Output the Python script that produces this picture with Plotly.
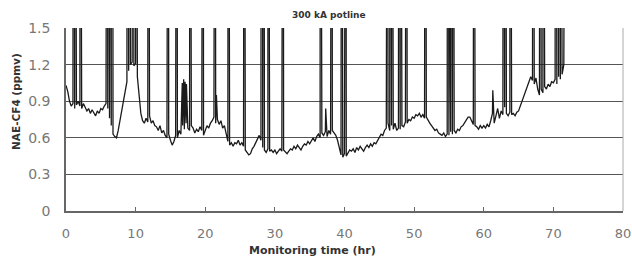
import plotly.graph_objects as go

# baseline NAE-CF4 readings every 0.25 h from 0 h
base_start = 0.0
base_step = 0.25
base_values = [
    1.03, 0.98, 0.90, 0.86, 0.88, 0.84, 0.87, 0.90, 0.86, 0.84, 0.88, 0.85,
    0.82, 0.84, 0.80, 0.83, 0.81, 0.78, 0.82, 0.80, 0.84, 0.83, 0.86, 0.88,
    0.84, 0.76, 0.70, 0.63, 0.61, 0.60, 0.66, 0.75, 0.82, 0.90, 0.98, 1.06,
    1.15, 1.20, 1.22, 1.19, 1.21, 1.10, 0.95, 0.80, 0.74, 0.72, 0.76, 0.73,
    0.78, 0.72, 0.74, 0.70, 0.69, 0.66, 0.70, 0.64, 0.66, 0.62, 0.60, 0.63,
    0.58, 0.54, 0.57, 0.62, 0.60, 0.66, 0.63, 0.70, 0.67, 0.72, 0.68, 0.66,
    0.70, 0.68, 0.64, 0.67, 0.65, 0.69, 0.66, 0.62, 0.66, 0.70, 0.68, 0.72,
    0.74, 0.77, 0.72, 0.75, 0.71, 0.74, 0.68, 0.70, 0.62, 0.57, 0.54, 0.56,
    0.53, 0.56, 0.55, 0.58, 0.54, 0.56, 0.53, 0.50, 0.48, 0.46, 0.47, 0.51,
    0.53, 0.56, 0.60, 0.62, 0.58, 0.52, 0.50, 0.48, 0.51, 0.49, 0.50, 0.48,
    0.50, 0.47, 0.49, 0.51, 0.49, 0.50, 0.48, 0.47, 0.49, 0.51, 0.50, 0.53,
    0.51, 0.54, 0.52, 0.50, 0.53, 0.55, 0.54, 0.57, 0.55, 0.58, 0.60, 0.57,
    0.61, 0.63, 0.60, 0.64, 0.62, 0.65, 0.61, 0.66, 0.63, 0.66, 0.64, 0.62,
    0.58, 0.52, 0.46, 0.44, 0.47, 0.45, 0.48, 0.50, 0.49, 0.51, 0.48, 0.52,
    0.50, 0.53, 0.51, 0.49, 0.52, 0.54, 0.52, 0.55, 0.53, 0.56, 0.55, 0.58,
    0.60, 0.63, 0.62, 0.66, 0.68, 0.72, 0.66, 0.70, 0.67, 0.72, 0.66, 0.68,
    0.67, 0.70, 0.69, 0.73, 0.72, 0.75, 0.74, 0.77, 0.76, 0.79, 0.78, 0.80,
    0.77, 0.79, 0.76, 0.77, 0.74, 0.72, 0.70, 0.68, 0.66, 0.67, 0.64, 0.63,
    0.62, 0.64, 0.61, 0.63, 0.62, 0.65, 0.63, 0.66, 0.64, 0.67, 0.66, 0.69,
    0.70, 0.72, 0.74, 0.77, 0.77, 0.74, 0.71, 0.70, 0.69, 0.67, 0.70, 0.68,
    0.70, 0.68, 0.71, 0.69, 0.74, 0.80, 0.72, 0.78, 0.84, 0.76, 0.82, 0.79,
    0.85, 0.80, 0.78, 0.81, 0.79, 0.80, 0.78, 0.81, 0.82, 0.86, 0.90, 0.95,
    0.98, 1.02, 1.06, 1.10, 1.07, 1.04, 1.09, 1.00, 0.95, 1.00, 0.97, 1.02,
    1.00, 1.04, 1.02, 1.06, 1.05, 1.08, 1.04, 1.10, 1.08, 1.12, 1.20,
]

# anode-effect spikes (time in h, peak ppmv)
spike_times = [
    1.05, 1.25, 2.0, 5.9, 6.1, 6.3, 6.5, 6.7, 8.8, 9.1, 9.7, 10.0, 11.8,
    14.7, 15.9, 16.7, 16.9, 17.1, 17.3, 17.8, 19.7, 21.4, 21.6, 23.3, 25.6,
    28.05, 28.2, 28.4, 29.0, 31.2, 36.5, 37.3, 38.2, 39.6, 40.2, 46.2, 46.5,
    46.8, 47.8, 48.0, 48.9, 51.6, 54.8, 55.0, 55.2, 55.4, 55.6, 58.6, 61.3,
    62.8, 63.1, 63.8, 67.1, 68.1, 68.5, 70.3, 70.5, 70.7, 70.9, 71.05, 71.75,
]
spike_peaks = [
    6.0, 6.0, 6.0, 6.0, 6.0, 6.0, 6.0, 6.0, 6.0, 6.0, 6.0, 6.0, 6.0,
    6.0, 6.0, 1.05, 1.08, 1.06, 1.04, 6.0, 6.0, 6.0, 0.95, 6.0, 6.0,
    6.0, 6.0, 6.0, 6.0, 6.0, 6.0, 0.84, 6.0, 6.0, 6.0, 6.0, 6.0,
    6.0, 6.0, 6.0, 6.0, 6.0, 6.0, 6.0, 1.06, 6.0, 6.0, 6.0, 0.99,
    6.0, 6.0, 6.0, 6.0, 6.0, 6.0, 6.0, 6.0, 6.0, 6.0, 6.0, 6.0,
]

y_ticks = [0, 0.3, 0.6, 0.9, 1.2, 1.5]
y_tick_labels = ["0", "0.3", "0.6", "0.9", "1.2", "1.5"]
x_ticks = [0, 10, 20, 30, 40, 50, 60, 70, 80]

# merge baseline samples and spike peaks into one time-ordered record
pts = [(base_start + i * base_step, v) for i, v in enumerate(base_values)]
pts += list(zip(spike_times, spike_peaks))
pts.sort(key=lambda p: p[0])
t = [p[0] for p in pts]
v = [p[1] for p in pts]

fig = go.Figure()
fig.add_trace(go.Scatter(x=t, y=v, mode="lines",
                         line=dict(color="#1a1a1a", width=1.3), cliponaxis=True,
                         showlegend=False))

fig.update_layout(
    width=632, height=261,
    margin=dict(l=66, r=9, t=28, b=50),
    paper_bgcolor="white", plot_bgcolor="white",
    font=dict(family="DejaVu Sans", color="#666666", size=12),
    xaxis=dict(range=[0, 80], tickvals=x_ticks, showgrid=False, zeroline=False,
               showline=True, linecolor="#666666", linewidth=1.5,
               ticks="inside", ticklen=4, tickcolor="#666666",
               ticklabelstandoff=10, automargin=False,
               ticklabeloverflow="allow",
               tickfont=dict(size=13, color="#777777")),
    yaxis=dict(range=[0, 1.5], tickvals=y_ticks, ticktext=y_tick_labels,
               showgrid=True, gridcolor="#555555", gridwidth=1.2,
               zeroline=False, showline=True, linecolor="#666666", linewidth=1.5,
               ticks="", ticklabelstandoff=11, automargin=False,
               ticklabeloverflow="allow",
               tickfont=dict(size=14, color="#777777")),
    shapes=[dict(type="line", xref="paper", yref="paper", x0=1, x1=1, y0=0, y1=1,
                 line=dict(color="#aaaaaa", width=1))],
    annotations=[
        dict(text="<b>300 kA potline</b>", xref="paper", yref="paper",
             x=0.472, y=1.0, yshift=13, xanchor="center", yanchor="middle",
             showarrow=False,
             font=dict(family="DejaVu Sans", size=9, color="#333333")),
        dict(text="<b>Monitoring time (hr)</b>", xref="paper", yref="paper",
             x=0.4417, y=0, yshift=-39, xanchor="center", yanchor="middle",
             showarrow=False,
             font=dict(family="DejaVu Sans", size=11, color="#333333")),
        dict(text="<b>NAE-CF4 (ppmv)</b>", xref="paper", yref="paper",
             x=0, xshift=-50, y=0.596, xanchor="center", yanchor="middle",
             textangle=-90, showarrow=False,
             font=dict(family="DejaVu Sans", size=10.5, color="#333333")),
    ],
)

fig.write_html(
    "out.html",
    config={"displayModeBar": False},
    post_script="document.body.style.margin='0';document.body.style.overflow='hidden';",
)
